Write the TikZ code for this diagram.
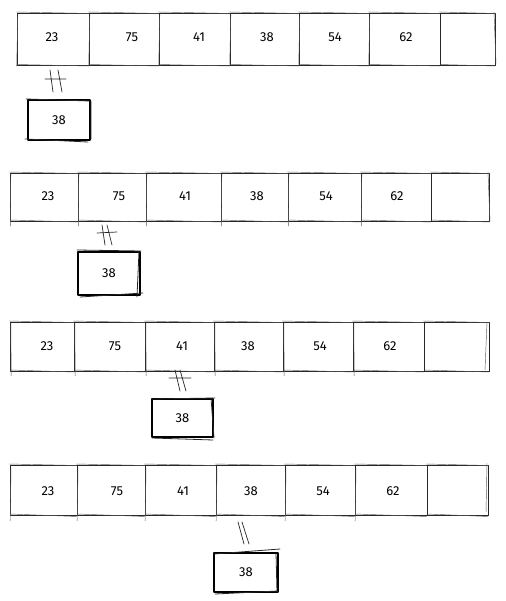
\documentclass[tikz,border=0pt]{standalone}
\usepackage{fontspec}
\setmainfont{Fira Sans}
\begin{document}
\begin{tikzpicture}[x=1pt,y=-1pt,line cap=round,line join=round]
\tikzset{
  sk/.style={draw=black!85,line width=0.8pt},
  sk2/.style={draw=black!65,line width=0.45pt},
  val/.style={font=\fontsize{13}{13}\selectfont,inner sep=0pt},
  tmpbox/.style={draw=black,line width=1.3pt,inner sep=0pt,font=\fontsize{13}{13}\selectfont},
  hash/.style={draw=black!85,line width=0.7pt}
}
\useasboundingbox (0,0) rectangle (505,601);
% ---------- row 1 ----------
\foreach \a/\b/\t/\l/\i in {17/89/52/23/1,89/159/132/75/2,159/230/199/41/3,230/299/267/38/4,299/369/335/54/5,369/440/406/62/6}{
  \draw[sk] (\a,13) rectangle (\b,65);
  \draw[sk2] (\a-1,12) -- (\b+1,13.5) (\a+0.8,15) -- (\a-0.3,66) (\a,64.5) -- (\b,66);
  \node[val] (ra\i) at (\t,37) {\l};
}
\draw[sk] (440,13) rectangle (495,65);
\draw[sk2] (439,12) -- (496,13.5) (494,12) -- (496,64) (440,64.5) -- (495,66);
% ---------- row 2 ----------
\foreach \a/\b/\t/\l/\i in {10/78/48/23/1,78/146/119/75/2,146/221/185/41/3,221/288/257/38/4,288/361/326/54/5,361/431/397/62/6}{
  \draw[sk] (\a,173) rectangle (\b,221);
  \draw[sk2] (\a-1,172) -- (\b+1,173.5) (\a+0.8,174) -- (\a+0.3,226) (\a,220) -- (\b,222);
  \node[val] (rb\i) at (\t,196) {\l};
}
\draw[sk] (431,173) rectangle (489,221);
\draw[sk2] (430,172) -- (490,173.5) (488,172) -- (490,222) (431,220) -- (489,222);
% ---------- row 3 ----------
\foreach \a/\b/\t/\l/\i in {10/74/47/23/1,74/145/115/75/2,145/214/182/41/3,214/283/248/38/4,283/353/320/54/5,353/424/390/62/6}{
  \draw[sk] (\a,322) rectangle (\b,371);
  \draw[sk2] (\a-1,321) -- (\b+1,322.5) (\a+0.8,323) -- (\a+1.2,376) (\a,370) -- (\b,372);
  \node[val] (rc\i) at (\t,346) {\l};
}
\draw[sk] (424,322) rectangle (489,371);
\draw[sk2] (423,321) -- (490,322.5) (487,322) -- (485,370) (424,370) -- (489,372);
% ---------- row 4 ----------
\foreach \a/\b/\t/\l/\i in {10/77/48/23/1,77/145/117/75/2,145/216/183/41/3,216/285/251/38/4,285/355/323/54/5,355/427/393/62/6}{
  \draw[sk] (\a,465) rectangle (\b,515);
  \draw[sk2] (\a-1,464) -- (\b+1,465.5) (\a+1,468) -- (\a+0.2,521) (\a,514) -- (\b,516.5);
  \node[val] (rd\i) at (\t,491) {\l};
}
\draw[sk] (427,465) rectangle (488,515);
\draw[sk2] (426,464) -- (489,465.5) (487,463) -- (486,512) (427,514) -- (488,516.5);
% ---------- temp boxes ----------
\node[tmpbox,minimum width=62pt,minimum height=40pt] (ta) at (59,120) {38};
\draw[sk] (26,99) -- (90,101) (91,101) -- (91,139) (25,139) -- (88,142);
\node[tmpbox,minimum width=62pt,minimum height=43pt] (tb) at (109,273.5) {38};
\draw[sk] (77,250) -- (141,251) (80,297) -- (143,293) (139,251) -- (137,297);
\node[tmpbox,minimum width=61pt,minimum height=38pt] (tc) at (182.5,418) {38};
\draw[sk] (152,399) -- (215,398) (211,398) -- (214,438) (152,438) -- (213,440);
\node[tmpbox,minimum width=64pt,minimum height=39pt] (td) at (246,572.5) {38};
\draw[sk] (214,554) -- (280,549) (276,553) -- (277,592) (215,594) -- (278,591);
% ---------- hash connectors ----------
\coordinate (ha1) at (50,70); \coordinate (ha2) at (53,92);
\coordinate (ha3) at (58,70); \coordinate (ha4) at (62,92);
\coordinate (ha5) at (45,79); \coordinate (ha6) at (66,79);
\draw[hash] (ha1) -- (ha2) (ha3) -- (ha4) (ha5) -- (ha6);
\coordinate (hb1) at (102,225); \coordinate (hb2) at (105,245);
\coordinate (hb3) at (107,225); \coordinate (hb4) at (112,245);
\coordinate (hb5) at (97,233); \coordinate (hb6) at (117,232);
\draw[hash] (hb1) -- (hb2) (hb3) -- (hb4) (hb5) -- (hb6);
\coordinate (hc1) at (175,370); \coordinate (hc2) at (180,391);
\coordinate (hc3) at (180,370); \coordinate (hc4) at (186,391);
\coordinate (hc5) at (169,378); \coordinate (hc6) at (191,378);
\draw[hash] (hc1) -- (hc2) (hc3) -- (hc4) (hc5) -- (hc6);
\coordinate (hd1) at (238,522); \coordinate (hd2) at (244,544);
\coordinate (hd3) at (242,522); \coordinate (hd4) at (249,544);
\draw[hash] (hd1) -- (hd2) (hd3) -- (hd4);
\end{tikzpicture}
\end{document}
